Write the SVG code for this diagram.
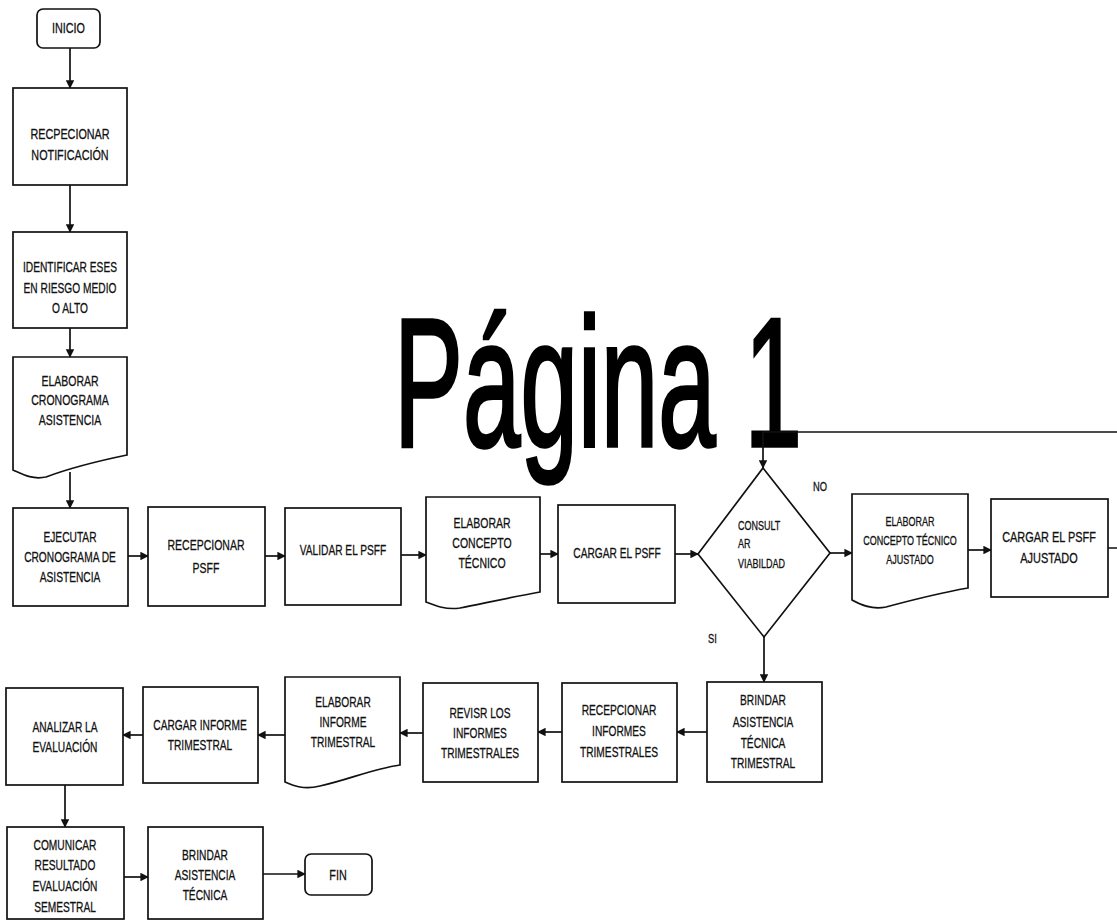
<svg xmlns="http://www.w3.org/2000/svg" width="1117" height="923" viewBox="0 0 1117 923">
<style>
.n{fill:#fff;stroke:#111;stroke-width:1.7}
.c{fill:none;stroke:#111;stroke-width:1.7}
.t{font-family:"Liberation Sans",Arial,sans-serif;font-size:15px;fill:#111;text-anchor:middle;stroke:#111;stroke-width:0.3}
.s{font-family:"Liberation Sans",Arial,sans-serif;font-size:12.5px;fill:#111;stroke:#111;stroke-width:0.3}
.big{font-family:"Liberation Sans",Arial,sans-serif;font-size:184px;fill:#000;stroke:#000;stroke-width:3.5}
</style>
<defs>
<marker id="a" viewBox="0 0 10 10" refX="9" refY="5" markerWidth="5" markerHeight="5" orient="auto" markerUnits="strokeWidth">
<path d="M0,0 L10,5 L0,10 z" fill="#111"/>
</marker>
</defs>
<rect width="1117" height="923" fill="#fff"/>
<text class="big" x="394" y="446" textLength="408" lengthAdjust="spacingAndGlyphs">Página 1</text>

<g id="connectors">
<path class="c" marker-end="url(#a)" d="M70,48 V88"/>
<path class="c" marker-end="url(#a)" d="M70,185 V232"/>
<path class="c" marker-end="url(#a)" d="M70,328 V357"/>
<path class="c" marker-end="url(#a)" d="M70,472 V508"/>
<path class="c" marker-end="url(#a)" d="M128,556 H148"/>
<path class="c" marker-end="url(#a)" d="M265,556 H285"/>
<path class="c" marker-end="url(#a)" d="M401,555 H426"/>
<path class="c" marker-end="url(#a)" d="M540,554 H558"/>
<path class="c" marker-end="url(#a)" d="M675,554 H698"/>
<path class="c" marker-end="url(#a)" d="M830,553 H852"/>
<path class="c" marker-end="url(#a)" d="M968,550 H991"/>
<path class="c" marker-end="url(#a)" d="M1108,548 H1130 V432 H763 V468"/>
<path class="c" marker-end="url(#a)" d="M764,637 V682"/>
<path class="c" marker-end="url(#a)" d="M707,732 H677"/>
<path class="c" marker-end="url(#a)" d="M562,732 H538"/>
<path class="c" marker-end="url(#a)" d="M423,733 H400"/>
<path class="c" marker-end="url(#a)" d="M285,735 H258"/>
<path class="c" marker-end="url(#a)" d="M143,735 H123"/>
<path class="c" marker-end="url(#a)" d="M65,785 V827"/>
<path class="c" marker-end="url(#a)" d="M124,877 H148"/>
<path class="c" marker-end="url(#a)" d="M263,874 H305"/>
</g>

<g id="inicio"><rect class="n" x="37" y="9" width="63" height="39" rx="6"/>
<text class="t" transform="translate(68.5,0) scale(0.72,1)"><tspan x="0" y="33">INICIO</tspan></text></g>

<g id="recpecionar"><rect class="n" x="13" y="88" width="114" height="97"/>
<text class="t" transform="translate(70,0) scale(0.72,1)"><tspan x="0" y="139">RECPECIONAR</tspan><tspan x="0" y="160">NOTIFICACIÓN</tspan></text></g>

<g id="identificar"><rect class="n" x="13" y="232" width="114" height="96"/>
<text class="t" transform="translate(70,0) scale(0.68,1)"><tspan x="0" y="272">IDENTIFICAR ESES</tspan><tspan x="0" y="293">EN RIESGO MEDIO</tspan><tspan x="0" y="313">O ALTO</tspan></text></g>

<g id="cronograma"><path class="n" d="M13,357 H127 V455 C98,461 70,468 46,477 C32,480 22,474 13,470 Z"/>
<text class="t" transform="translate(70,0) scale(0.7,1)"><tspan x="0" y="386">ELABORAR</tspan><tspan x="0" y="405">CRONOGRAMA</tspan><tspan x="0" y="425">ASISTENCIA</tspan></text></g>

<g id="ejecutar"><rect class="n" x="13" y="508" width="115" height="98"/>
<text class="t" transform="translate(70,0) scale(0.68,1)"><tspan x="0" y="542">EJECUTAR</tspan><tspan x="0" y="562">CRONOGRAMA DE</tspan><tspan x="0" y="582">ASISTENCIA</tspan></text></g>

<g id="recepcionar-psff"><rect class="n" x="148" y="507" width="117" height="99"/>
<text class="t" transform="translate(206,0) scale(0.7,1)"><tspan x="0" y="550">RECEPCIONAR</tspan><tspan x="0" y="573">PSFF</tspan></text></g>

<g id="validar"><rect class="n" x="285" y="508" width="116" height="97"/>
<text class="t" transform="translate(343,0) scale(0.68,1)"><tspan x="0" y="555">VALIDAR EL PSFF</tspan></text></g>

<g id="concepto"><path class="n" d="M426,497 H540 V592 C512,597 485,603 460,608 C446,610 436,606 426,602 Z"/>
<text class="t" transform="translate(482,0) scale(0.7,1)"><tspan x="0" y="528">ELABORAR</tspan><tspan x="0" y="548">CONCEPTO</tspan><tspan x="0" y="568">TÉCNICO</tspan></text></g>

<g id="cargar-psff"><rect class="n" x="558" y="505" width="117" height="98"/>
<text class="t" transform="translate(617,0) scale(0.68,1)"><tspan x="0" y="558">CARGAR EL PSFF</tspan></text></g>

<g id="consultar"><path class="n" d="M763,468 L830,553 L764,637 L698,554 Z"/>
<text class="s" transform="translate(738,0) scale(0.72,1)"><tspan x="0" y="530">CONSULT</tspan><tspan x="0" y="548">AR</tspan><tspan x="0" y="568">VIABILDAD</tspan></text></g>

<g id="label-no"><text class="s" transform="translate(813,0) scale(0.75,1)"><tspan x="0" y="491">NO</tspan></text></g>
<g id="label-si"><text class="s" transform="translate(708,0) scale(0.75,1)"><tspan x="0" y="643">SI</tspan></text></g>

<g id="concepto-ajustado"><path class="n" d="M852,494 H968 V588 C940,593 912,600 886,607 C872,610 861,605 852,600 Z"/>
<text class="s" text-anchor="middle" transform="translate(910,0) scale(0.72,1)"><tspan x="0" y="526">ELABORAR</tspan><tspan x="0" y="545">CONCEPTO  TÉCNICO</tspan><tspan x="0" y="564">AJUSTADO</tspan></text></g>

<g id="cargar-ajustado"><rect class="n" x="991" y="499" width="117" height="98"/>
<text class="s" text-anchor="middle" transform="translate(1049,0) scale(0.78,1)" style="font-size:14px"><tspan x="0" y="542">CARGAR EL PSFF</tspan><tspan x="0" y="563">AJUSTADO</tspan></text></g>

<g id="brindar-trimestral"><rect class="n" x="707" y="682" width="115" height="100"/>
<text class="t" transform="translate(763,0) scale(0.68,1)"><tspan x="0" y="705">BRINDAR</tspan><tspan x="0" y="727">ASISTENCIA</tspan><tspan x="0" y="748">TÉCNICA</tspan><tspan x="0" y="768">TRIMESTRAL</tspan></text></g>

<g id="recepcionar-informes"><rect class="n" x="562" y="683" width="115" height="99"/>
<text class="t" transform="translate(619,0) scale(0.68,1)"><tspan x="0" y="715">RECEPCIONAR</tspan><tspan x="0" y="736">INFORMES</tspan><tspan x="0" y="757">TRIMESTRALES</tspan></text></g>

<g id="revisar"><rect class="n" x="423" y="683" width="115" height="99"/>
<text class="t" transform="translate(480,0) scale(0.68,1)"><tspan x="0" y="718">REVISR LOS</tspan><tspan x="0" y="738">INFORMES</tspan><tspan x="0" y="758">TRIMESTRALES</tspan></text></g>

<g id="elaborar-informe"><path class="n" d="M285,677 H400 V765 C372,769 348,780 320,786 C304,790 294,786 285,782 Z"/>
<text class="t" transform="translate(343,0) scale(0.68,1)"><tspan x="0" y="707">ELABORAR</tspan><tspan x="0" y="727">INFORME</tspan><tspan x="0" y="747">TRIMESTRAL</tspan></text></g>

<g id="cargar-informe"><rect class="n" x="143" y="687" width="115" height="96"/>
<text class="t" transform="translate(200,0) scale(0.68,1)"><tspan x="0" y="730">CARGAR INFORME</tspan><tspan x="0" y="750">TRIMESTRAL</tspan></text></g>

<g id="analizar"><rect class="n" x="6" y="688" width="117" height="97"/>
<text class="t" transform="translate(65,0) scale(0.68,1)"><tspan x="0" y="732">ANALIZAR LA</tspan><tspan x="0" y="752">EVALUACIÓN</tspan></text></g>

<g id="comunicar"><rect class="n" x="7" y="827" width="117" height="92"/>
<text class="t" transform="translate(65,0) scale(0.68,1)"><tspan x="0" y="850">COMUNICAR</tspan><tspan x="0" y="870">RESULTADO</tspan><tspan x="0" y="891">EVALUACIÓN</tspan><tspan x="0" y="912">SEMESTRAL</tspan></text></g>

<g id="brindar"><rect class="n" x="148" y="827" width="115" height="92"/>
<text class="t" transform="translate(205,0) scale(0.68,1)"><tspan x="0" y="860">BRINDAR</tspan><tspan x="0" y="880">ASISTENCIA</tspan><tspan x="0" y="900">TÉCNICA</tspan></text></g>

<g id="fin"><rect class="n" x="305" y="854" width="67" height="41" rx="6"/>
<text class="t" transform="translate(338,0) scale(0.72,1)"><tspan x="0" y="880">FIN</tspan></text></g>
</svg>
